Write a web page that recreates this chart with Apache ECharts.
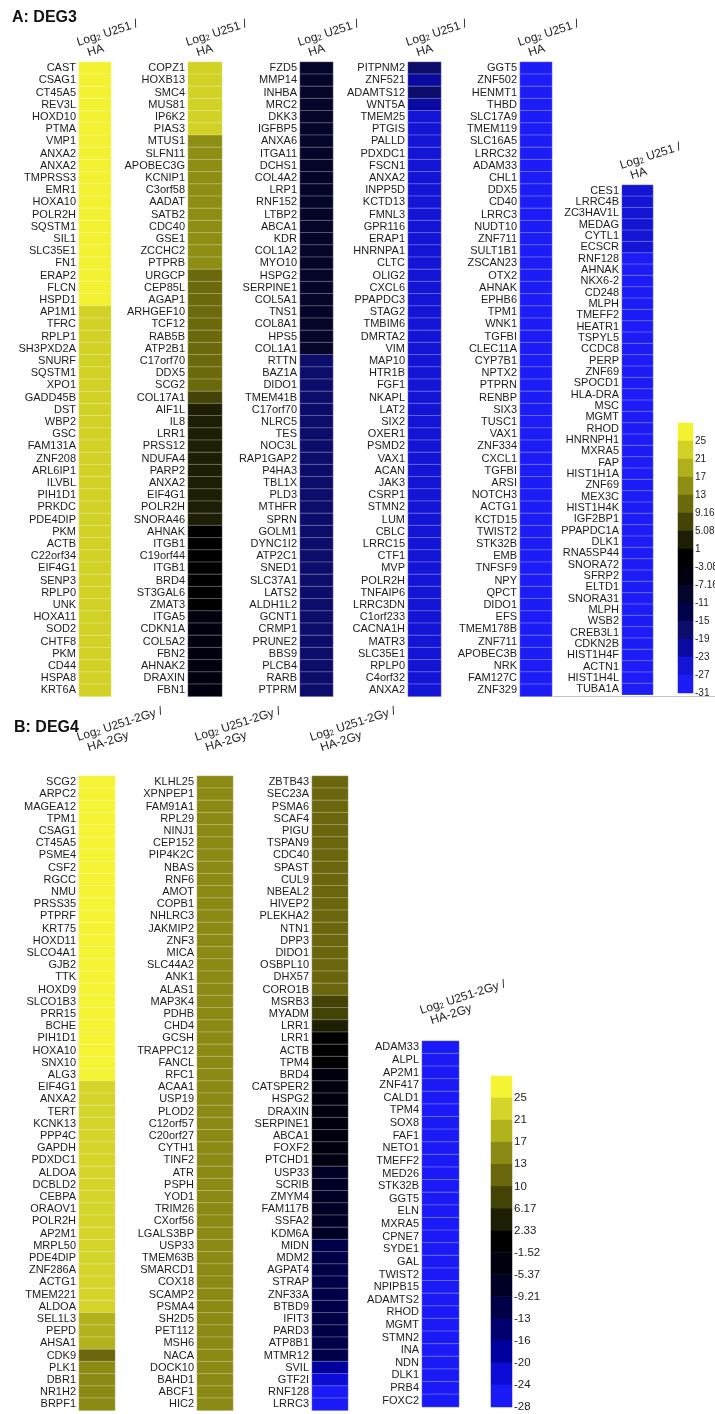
<!DOCTYPE html>
<html>
<head>
<meta charset="utf-8">
<script src="https://cdn.jsdelivr.net/npm/echarts@6/dist/echarts.min.js"></script>
<style>
html,body{margin:0;padding:0;background:#fff}
#chart{width:715px;height:1414px}
</style>
</head>
<body>
<div id="chart"></div>
<script>
// ---------- Panel A: DEG3, Log2 U251 / HA ----------
const aGenes1 = ['CAST','CSAG1','CT45A5','REV3L','HOXD10','PTMA','VMP1','ANXA2','ANXA2','TMPRSS3','EMR1','HOXA10','POLR2H','SQSTM1','SIL1','SLC35E1','FN1','ERAP2','FLCN','HSPD1','AP1M1','TFRC','RPLP1','SH3PXD2A','SNURF','SQSTM1','XPO1','GADD45B','DST','WBP2','GSC','FAM131A','ZNF208','ARL6IP1','ILVBL','PIH1D1','PRKDC','PDE4DIP','PKM','ACTB','C22orf34','EIF4G1','SENP3','RPLP0','UNK','HOXA11','SOD2','CHTF8','PKM','CD44','HSPA8','KRT6A'];
const aVals1 = [27.4,27.1,26.9,26.6,26.4,26.2,26.0,25.9,25.8,25.7,25.6,25.5,25.4,25.4,25.3,25.2,25.2,25.1,25.1,25.0,
  24.6,24.3,24.0,23.8,23.6,23.4,23.2,23.0,22.9,22.8,22.6,22.5,22.4,22.3,22.2,22.1,22.0,21.9,21.8,21.8,21.7,21.6,21.6,21.5,21.4,21.4,21.3,21.3,21.2,21.2,21.1,21.1];

const aGenes2 = ['COPZ1','HOXB13','SMC4','MUS81','IP6K2','PIAS3','MTUS1','SLFN11','APOBEC3G','KCNIP1','C3orf58','AADAT','SATB2','CDC40','GSE1','ZCCHC2','PTPRB','URGCP','CEP85L','AGAP1','ARHGEF10','TCF12','RAB5B','ATP2B1','C17orf70','DDX5','SCG2','COL17A1','AIF1L','IL8','LRR1','PRSS12','NDUFA4','PARP2','ANXA2','EIF4G1','POLR2H','SNORA46','AHNAK','ITGB1','C19orf44','ITGB1','BRD4','ST3GAL6','ZMAT3','ITGA5','CDKN1A','COL5A2','FBN2','AHNAK2','DRAXIN','FBN1'];
const aVals2 = [22.0,21.8,21.6,21.5,21.3,21.1,
  16.8,16.5,16.2,15.9,15.6,15.3,15.0,14.6,14.2,13.8,13.4,
  12.8,12.5,12.2,11.9,11.6,11.2,10.8,10.4,10.0,9.6,
  8.0,
  4.9,4.6,4.2,3.8,3.4,3.0,2.6,2.2,1.8,1.3,
  0.6,0.1,-0.4,-0.9,-1.5,-2.1,-2.7,
  -3.3,-3.8,-4.3,-4.8,-5.4,-6.0,-6.6];

const aGenes3 = ['FZD5','MMP14','INHBA','MRC2','DKK3','IGFBP5','ANXA6','ITGA11','DCHS1','COL4A2','LRP1','RNF152','LTBP2','ABCA1','KDR','COL1A2','MYO10','HSPG2','SERPINE1','COL5A1','TNS1','COL8A1','HPS5','COL1A1','RTTN','BAZ1A','DIDO1','TMEM41B','C17orf70','NLRC5','TES','NOC3L','RAP1GAP2','P4HA3','TBL1X','PLD3','MTHFR','SPRN','GOLM1','DYNC1I2','ATP2C1','SNED1','SLC37A1','LATS2','ALDH1L2','GCNT1','CRMP1','PRUNE2','BBS9','PLCB4','RARB','PTPRM'];
const aVals3 = [-7.3,-7.5,-7.7,-7.9,-8.1,-8.3,-8.5,-8.7,-8.9,-9.1,-9.3,-9.5,-9.7,-9.9,-10.0,-10.1,-10.2,-10.3,-10.4,-10.5,-10.6,-10.7,-10.8,-10.9,
  -15.1,-15.2,-15.3,-15.4,-15.5,-15.6,-15.7,-15.8,-15.9,-16.0,-16.1,-16.2,-16.3,-16.4,-16.5,-16.6,-16.7,-16.8,-16.9,-17.0,-17.2,-17.4,-17.6,-17.8,-18.0,-18.2,-18.5,-18.8];

const aGenes4 = ['PITPNM2','ZNF521','ADAMTS12','WNT5A','TMEM25','PTGIS','PALLD','PDXDC1','FSCN1','ANXA2','INPP5D','KCTD13','FMNL3','GPR116','ERAP1','HNRNPA1','CLTC','OLIG2','CXCL6','PPAPDC3','STAG2','TMBIM6','DMRTA2','VIM','MAP10','HTR1B','FGF1','NKAPL','LAT2','SIX2','OXER1','PSMD2','VAX1','ACAN','JAK3','CSRP1','STMN2','LUM','CBLC','LRRC15','CTF1','MVP','POLR2H','TNFAIP6','LRRC3DN','C1orf233','CACNA1H','MATR3','SLC35E1','RPLP0','C4orf32','ANXA2'];
const aVals4 = [-16.8,-20.5,-17.5,-19.8,
  -23.1,-23.2,-23.3,-23.4,-23.5,-23.6,-23.7,-23.8,-23.9,-24.0,
  -24.1,-24.2,-24.3,-24.4,-24.5,-24.6,-24.7,-24.8,-24.9,-25.0,
  -25.1,-25.2,-25.3,-25.4,-25.5,-25.6,-25.7,-25.8,-25.9,-26.0,
  -26.1,-26.2,-26.25,-26.3,-26.35,-26.4,-26.45,-26.5,-26.55,-26.6,
  -26.65,-26.7,-26.75,-26.8,-26.85,-26.9,-26.95,-26.98];

const aGenes5 = ['GGT5','ZNF502','HENMT1','THBD','SLC17A9','TMEM119','SLC16A5','LRRC32','ADAM33','CHL1','DDX5','CD40','LRRC3','NUDT10','ZNF711','SULT1B1','ZSCAN23','OTX2','AHNAK','EPHB6','TPM1','WNK1','TGFBI','CLEC11A','CYP7B1','NPTX2','PTPRN','RENBP','SIX3','TUSC1','VAX1','ZNF334','CXCL1','TGFBI','ARSI','NOTCH3','ACTG1','KCTD15','TWIST2','STK32B','EMB','TNFSF9','NPY','QPCT','DIDO1','EFS','TMEM178B','ZNF711','APOBEC3B','NRK','FAM127C','ZNF329'];
const aVals5 = [-27.1,-27.2,-27.3,-27.4,-27.5,-27.6,-27.7,-27.8,-27.9,-28.0,
  -28.1,-28.2,-28.3,-28.4,-28.5,-28.6,-28.7,-28.8,-28.9,-29.0,
  -29.1,-29.2,-29.3,-29.4,-29.5,-29.6,-29.7,-29.8,-29.9,-30.0,
  -30.1,-30.2,-30.3,-30.4,-30.5,-30.6,-30.7,-30.8,-30.9,-31.0,
  -31.1,-31.2,-31.3,-31.4,-31.5,-31.6,-31.7,-31.8,-31.9,-32.0,-32.1,-32.2];

const aGenes6 = ['CES1','LRRC4B','ZC3HAV1L','MEDAG','CYTL1','ECSCR','RNF128','AHNAK','NKX6-2','CD248','MLPH','TMEFF2','HEATR1','TSPYL5','CCDC8','PERP','ZNF69','SPOCD1','HLA-DRA','MSC','MGMT','RHOD','HNRNPH1','MXRA5','FAP','HIST1H1A','ZNF69','MEX3C','HIST1H4K','IGF2BP1','PPAPDC1A','DLK1','RNA5SP44','SNORA72','SFRP2','ELTD1','SNORA31','MLPH','WSB2','CREB3L1','CDKN2B','HIST1H4F','ACTN1','HIST1H4L','TUBA1A'];
const aVals6 = [-24.2,-24.8,-25.3,-25.9,-26.4,-26.9,
  -27.2,-27.4,-27.6,-27.8,-28.0,-28.2,-28.4,-28.6,-28.8,-29.0,
  -29.1,-29.2,-29.3,-29.4,-29.5,-29.6,-29.7,-29.8,-29.9,-30.0,
  -30.1,-30.2,-30.3,-30.4,-30.5,-30.6,-30.7,-30.8,-30.9,-31.0,
  -31.1,-31.2,-31.3,-31.4,-31.5,-31.6,-31.7,-31.8,-31.9];

// colour key of panel A: lower edge of each band, top band first
const aTicks = [25,21,17,13,9.16,5.08,1,-3.08,-7.16,-11,-15,-19,-23,-27,-31];
const aKeyVals = [27,23,19,15,11,7,3,-1,-5,-9,-13,-17,-21,-25,-29];

// ---------- Panel B: DEG4, Log2 U251-2Gy / HA-2Gy ----------
const bGenes1 = ['SCG2','ARPC2','MAGEA12','TPM1','CSAG1','CT45A5','PSME4','CSF2','RGCC','NMU','PRSS35','PTPRF','KRT75','HOXD11','SLCO4A1','GJB2','TTK','HOXD9','SLCO1B3','PRR15','BCHE','PIH1D1','HOXA10','SNX10','ALG3','EIF4G1','ANXA2','TERT','KCNK13','PPP4C','GAPDH','PDXDC1','ALDOA','DCBLD2','CEBPA','ORAOV1','POLR2H','AP2M1','MRPL50','PDE4DIP','ZNF286A','ACTG1','TMEM221','ALDOA','SEL1L3','PEPD','AHSA1','CDK9','PLK1','DBR1','NR1H2','BRPF1'];
const bVals1 = [29.2,28.8,28.5,28.2,28.0,27.8,27.6,27.4,27.2,27.0,26.9,26.8,26.6,26.5,26.4,26.2,26.1,26.0,25.9,25.8,25.6,25.5,25.4,25.2,25.1,
  24.8,24.6,24.3,24.1,23.9,23.7,23.5,23.3,23.0,22.8,22.6,22.4,22.2,22.0,21.8,21.6,21.4,21.2,21.1,
  20.6,19.4,18.2,
  12.4,15.8,15.5,15.2,14.9];

const bGenes2 = ['KLHL25','XPNPEP1','FAM91A1','RPL29','NINJ1','CEP152','PIP4K2C','NBAS','RNF6','AMOT','COPB1','NHLRC3','JAKMIP2','ZNF3','MICA','SLC44A2','ANK1','ALAS1','MAP3K4','PDHB','CHD4','GCSH','TRAPPC12','FANCL','RFC1','ACAA1','USP19','PLOD2','C12orf57','C20orf27','CYTH1','TINF2','ATR','PSPH','YOD1','TRIM26','CXorf56','LGALS3BP','USP33','TMEM63B','SMARCD1','COX18','SCAMP2','PSMA4','SH2D5','PET112','MSH6','NACA','DOCK10','BAHD1','ABCF1','HIC2'];
const bVals2 = [16.9,16.8,16.8,16.7,16.6,16.5,16.4,16.4,16.3,16.2,
  16.1,16.0,16.0,15.9,15.8,15.7,15.6,15.5,15.5,15.4,
  15.3,15.2,15.1,15.0,14.9,14.9,14.8,14.7,14.6,14.5,
  14.4,14.4,14.3,14.2,14.1,14.0,13.9,13.9,13.8,13.7,
  13.6,13.6,13.5,13.5,13.4,13.4,13.3,13.3,13.2,13.2,13.1,13.1];

const bGenes3 = ['ZBTB43','SEC23A','PSMA6','SCAF4','PIGU','TSPAN9','CDC40','SPAST','CUL9','NBEAL2','HIVEP2','PLEKHA2','NTN1','DPP3','DIDO1','OSBPL10','DHX57','CORO1B','MSRB3','MYADM','LRR1','LRR1','ACTB','TPM4','BRD4','CATSPER2','HSPG2','DRAXIN','SERPINE1','ABCA1','FOXF2','PTCHD1','USP33','SCRIB','ZMYM4','FAM117B','SSFA2','KDM6A','MIDN','MDM2','AGPAT4','STRAP','ZNF33A','BTBD9','IFIT3','PARD3','ATP8B1','MTMR12','SVIL','GTF2I','RNF128','LRRC3'];
const bVals3 = [12.9,12.7,12.5,12.3,12.1,11.9,11.7,11.5,11.3,11.1,10.9,10.8,10.7,10.6,10.5,10.4,10.3,10.2,
  8.4,6.8,
  4.1,
  1.2,0.3,-0.9,
  -1.8,-2.3,-2.8,-3.2,-3.7,-4.1,-4.6,-5.1,
  -5.6,-6.2,-6.8,-7.4,-8.0,-8.7,
  -9.4,-9.8,-10.2,-10.6,-11.0,-11.4,-11.8,-12.2,-12.5,-12.8,
  -17.5,-22.5,-25.4,-26.1];

const bGenes4 = ['ADAM33','ALPL','AP2M1','ZNF417','CALD1','TPM4','SOX8','FAF1','NETO1','TMEFF2','MED26','STK32B','GGT5','ELN','MXRA5','CPNE7','SYDE1','GAL','TWIST2','NPIPB15','ADAMTS2','RHOD','MGMT','STMN2','INA','NDN','DLK1','PRB4','FOXC2'];
const bVals4 = [-24.1,-24.2,-24.3,-24.4,-24.5,-24.6,-24.7,-24.8,-24.9,-25.0,
  -25.2,-25.3,-25.5,-25.6,-25.8,-25.9,-26.1,-26.2,-26.4,-26.5,
  -26.7,-26.8,-27.0,-27.1,-27.3,-27.4,-27.6,-27.7,-27.9];

// colour key of panel B
const bTicks = [25,21,17,13,10,6.17,2.33,-1.52,-5.37,-9.21,-13,-16,-20,-24,-28];
const bKeyVals = [27,23,19,15,11.5,8,4,0.4,-3.4,-7.3,-11,-14.5,-18,-22,-26];

// ---------- styling ----------
const aColors = ['#f2f232','#d2d226','#b0b01a','#8e8e14','#6a6a0c','#444406','#1e1e04','#000000','#00000e','#05052a','#000048','#0c0c6a','#0a0aa0','#1414d4','#1c1cf6'];
const bColors = ['#f4f434','#d4d42a','#b2b21c','#8a8a14','#6a660e','#434306','#1e1e04','#000000','#00000e','#000026','#000048','#00006e','#00009e','#0c0cd6','#1a1af6'];

const FONT = '"Liberation Sans", Arial, sans-serif';

// heatmap columns: [genes, values, panel, left, top, width, rowHeight, header gap]
const columns = [
  [aGenes1, aVals1, 'A', 79, 62, 32, 12.2, 1],
  [aGenes2, aVals2, 'A', 188, 62, 34, 12.2, 1],
  [aGenes3, aVals3, 'A', 300, 62, 33, 12.2, 1],
  [aGenes4, aVals4, 'A', 408, 62, 33, 12.2, 1],
  [aGenes5, aVals5, 'A', 520, 62, 32, 12.2, 1],
  [aGenes6, aVals6, 'A', 622, 185, 31, 11.33, 1],
  [bGenes1, bVals1, 'B', 79, 776, 36, 12.2, 20],
  [bGenes2, bVals2, 'B', 197, 776, 36, 12.2, 20],
  [bGenes3, bVals3, 'B', 312, 776, 36, 12.2, 20],
  [bGenes4, bVals4, 'B', 422, 1041, 37, 12.62, 12]
];
// colour keys: [tick values, band values, panel, left, top, width, height, label size]
const keys = [
  [aTicks, aKeyVals, 'A', 678, 423, 15, 270, 10],
  [bTicks, bKeyVals, 'B', 491, 1076, 21, 331, 11.5]
];

function pieces(ticks, colors) {
  return ticks.map((t, i) => {
    if (i === 0) return { gte: t, color: colors[i] };
    if (i === ticks.length - 1) return { lt: ticks[i - 1], color: colors[i] };
    return { gte: t, lt: ticks[i - 1], color: colors[i] };
  });
}

const grid = [], xAxis = [], yAxis = [], series = [], graphic = [];
const seriesA = [], seriesB = [];

columns.forEach((c, i) => {
  const [genes, vals, panel, left, top, width, rowH, gap] = c;
  grid.push({ left: left, top: top, width: width, height: genes.length * rowH,
              containLabel: false, outerBoundsMode: 'none' });
  xAxis.push({ type: 'category', gridIndex: i, data: [''], show: false });
  yAxis.push({ type: 'category', gridIndex: i, data: genes, inverse: true,
    axisLine: { show: false }, axisTick: { show: false }, splitLine: { show: false },
    axisLabel: { interval: 0, fontSize: 11, margin: 3, color: '#1c1c1c', fontFamily: FONT } });
  (panel === 'A' ? seriesA : seriesB).push(series.length);
  series.push({ type: 'heatmap', xAxisIndex: i, yAxisIndex: yAxis.length - 1,
    data: vals.map((v, j) => [0, j, v]),
    itemStyle: { borderColor: 'rgba(255,255,255,0.42)', borderWidth: 0.7 },
    emphasis: { disabled: true }, silent: true, progressive: 0 });

  // rotated column header
  const l1 = panel === 'A' ? ' U251 /' : ' U251-2Gy /';
  const l2 = panel === 'A' ? 'HA' : 'HA-2Gy';
  graphic.push({ type: 'group', x: left + 4, y: top - gap, rotation: 0.31, silent: true,
    children: [
      { type: 'text', x: 0, y: -13, style: { text: '{n|Log}{s|2}{n|' + l1 + '}',
        rich: { n: { fontSize: 12, fontFamily: FONT, fill: '#222', verticalAlign: 'bottom' },
                s: { fontSize: 8, fontFamily: FONT, fill: '#222', verticalAlign: 'bottom' } },
        verticalAlign: 'bottom', align: 'left' } },
      { type: 'text', x: 7, y: 0, style: { text: l2, font: '12px ' + FONT, fill: '#222',
        verticalAlign: 'bottom', align: 'left' } }
    ] });
});

keys.forEach((k) => {
  const [ticks, kv, panel, left, top, width, height, fs] = k;
  const gi = grid.length;
  grid.push({ left: left, top: top, width: width, height: height,
              containLabel: false, outerBoundsMode: 'none' });
  xAxis.push({ type: 'category', gridIndex: gi, data: [''], show: false });
  yAxis.push({ type: 'category', gridIndex: gi, data: kv.map(String), inverse: true, show: false });
  const catIdx = yAxis.length - 1;
  yAxis.push({ type: 'value', gridIndex: gi, position: 'right', inverse: true,
    min: 0, max: ticks.length, interval: 1,
    axisLine: { show: false }, axisTick: { show: false }, splitLine: { show: false },
    axisLabel: { fontSize: fs, margin: 2, color: '#1c1c1c', fontFamily: FONT,
      formatter: (v) => (v >= 1 && v <= ticks.length) ? String(ticks[v - 1]) : '' } });
  (panel === 'A' ? seriesA : seriesB).push(series.length);
  series.push({ type: 'heatmap', xAxisIndex: gi, yAxisIndex: catIdx,
    data: kv.map((v, j) => [0, j, v]), itemStyle: { borderWidth: 0 },
    emphasis: { disabled: true }, silent: true, progressive: 0 });
});

// panel titles and the thin rule under the last DEG3 column
graphic.push({ type: 'text', left: 12, top: 10, silent: true,
  style: { text: 'A: DEG3', font: 'bold 16px ' + FONT, fill: '#111' } });
graphic.push({ type: 'text', left: 14, top: 720, silent: true,
  style: { text: 'B: DEG4', font: 'bold 16px ' + FONT, fill: '#111' } });
graphic.push({ type: 'line', silent: true, z: -1,
  shape: { x1: 553, y1: 696.5, x2: 715, y2: 696.5 },
  style: { stroke: '#c4c4c4', lineWidth: 1 } });

const chart = echarts.init(document.getElementById('chart'), null, { renderer: 'canvas' });
chart.setOption({
  animation: false,
  backgroundColor: '#ffffff',
  grid, xAxis, yAxis, series, graphic,
  visualMap: [
    { type: 'piecewise', show: false, dimension: 2, seriesIndex: seriesA, pieces: pieces(aTicks, aColors) },
    { type: 'piecewise', show: false, dimension: 2, seriesIndex: seriesB, pieces: pieces(bTicks, bColors) }
  ]
});
</script>
</body>
</html>
